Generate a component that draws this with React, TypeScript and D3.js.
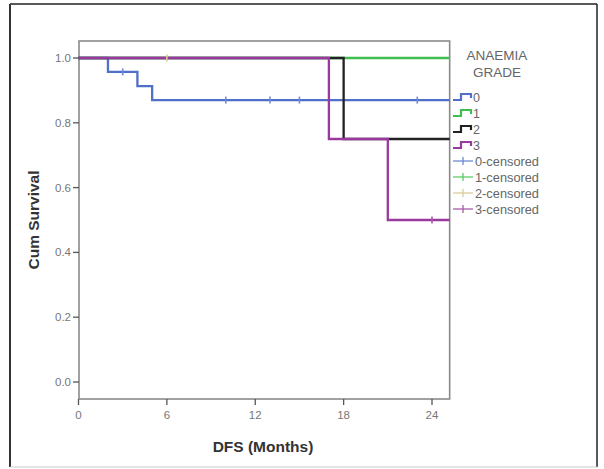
import React from 'react';
import * as d3 from 'd3';

// Kaplan-Meier steps per anaemia grade: [time, survival]
const groups = ['0', '1', '2', '3'];
const grade0Steps: [number, number][] = [[0, 1], [2, 0.957], [4, 0.913], [5, 0.87], [25.2, 0.87]];
const grade1Steps: [number, number][] = [[0, 1], [25.2, 1]];
const grade2Steps: [number, number][] = [[0, 1], [18, 0.75], [25.2, 0.75]];
const grade3Steps: [number, number][] = [[0, 1], [17, 0.75], [21, 0.5], [25.2, 0.5]];

// censored observations: [time, survival]
const grade0Censored: [number, number][] = [[3, 0.957], [10, 0.87], [13, 0.87], [15, 0.87], [23, 0.87]];
const grade1Censored: [number, number][] = [];
const grade2Censored: [number, number][] = [[6, 1]];
const grade3Censored: [number, number][] = [[24, 0.5]];

const xTicks = [0, 6, 12, 18, 24];
const yTicks = [0, 0.2, 0.4, 0.6, 0.8, 1.0];

const lineColors = ['#4f6fc9', '#3fbf4f', '#222222', '#9a3a9e'];
const censorColors = ['#6f8ad6', '#5ccc6a', '#d9cc98', '#a85aac'];

export default function App() {
  const x = d3.scaleLinear().domain([0, 24]).range([78.5, 432]);
  const y = d3.scaleLinear().domain([0, 1]).range([382, 58]);
  const left = 79, top = 41, right = x(25.2), bottom = 399;

  const steps = [grade0Steps, grade1Steps, grade2Steps, grade3Steps];
  const censored = [grade0Censored, grade1Censored, grade2Censored, grade3Censored];

  const stepLine = d3.line<[number, number]>()
    .x(d => x(d[0]))
    .y(d => y(d[1]))
    .curve(d3.curveStepAfter);

  const font = 'Liberation Sans, Arial, sans-serif';
  const legX = 453;
  const legY0 = 97;
  const legStep = 16;

  return (
    <svg width={604} height={469} style={{ position: 'absolute', left: 0, top: 0 }}>
      <rect x={0} y={0} width={604} height={469} fill="#fff" />
      {/* outer frame */}
      <line x1={10} y1={4} x2={597} y2={4} stroke="#222" strokeWidth={1.5} />
      <line x1={10} y1={4} x2={10} y2={467} stroke="#333" strokeWidth={2} />
      <line x1={597} y1={4} x2={597} y2={467} stroke="#222" strokeWidth={1.5} />
      <line x1={10} y1={467} x2={597} y2={467} stroke="#ccc" strokeWidth={1} />

      {/* plot frame */}
      <rect x={left} y={top} width={right - left} height={bottom - top} fill="none" stroke="#8a8a8a" strokeWidth={1.6} />

      {/* y axis ticks */}
      {yTicks.map(t => (
        <g key={'y' + t}>
          <line x1={left - 6} x2={left} y1={y(t)} y2={y(t)} stroke="#555" strokeWidth={1.3} />
          <text x={left - 8} y={y(t) + 4} textAnchor="end" fontSize={11.5} fill="#777" fontFamily={font}>
            {t.toFixed(1)}
          </text>
        </g>
      ))}
      {/* x axis ticks */}
      {xTicks.map(t => (
        <g key={'x' + t}>
          <line x1={x(t)} x2={x(t)} y1={bottom} y2={bottom + 6} stroke="#555" strokeWidth={1.3} />
          <text x={x(t)} y={bottom + 20} textAnchor="middle" fontSize={11.5} fill="#777" fontFamily={font}>
            {t}
          </text>
        </g>
      ))}

      {/* curves */}
      {steps.map((s, i) => (
        <path key={'s' + i} d={stepLine(s) || ''} fill="none" stroke={lineColors[i]} strokeWidth={2.3} />
      ))}
      {censored.map((c, i) =>
        c.map((p, j) => (
          <line key={'c' + i + '-' + j} x1={x(p[0])} x2={x(p[0])} y1={y(p[1]) - 3.5} y2={y(p[1]) + 3.5}
            stroke={censorColors[i]} strokeWidth={1.6} />
        ))
      )}

      {/* axis titles */}
      <text x={263} y={452} textAnchor="middle" fontSize={15.5} fontWeight="bold" fill="#333" fontFamily={font}>
        DFS (Months)
      </text>
      <text transform={`translate(39,220) rotate(-90)`} textAnchor="middle" fontSize={15.5} fontWeight="bold" fill="#333" fontFamily={font}>
        Cum Survival
      </text>

      {/* legend */}
      <text x={497} y={60} textAnchor="middle" fontSize={13.5} fill="#666" fontFamily={font}>ANAEMIA</text>
      <text x={497} y={77} textAnchor="middle" fontSize={13.5} fill="#666" fontFamily={font}>GRADE</text>
      {groups.map((g, i) => {
        const cy = legY0 + i * legStep;
        return (
          <g key={'l' + g}>
            <path d={`M${legX},${cy + 3} H${legX + 8} V${cy - 3} H${legX + 18} V${cy + 1}`} fill="none"
              stroke={lineColors[i]} strokeWidth={2.2} />
            <text x={legX + 20} y={cy + 4.5} fontSize={12.5} fill="#666" fontFamily={font}>{g}</text>
          </g>
        );
      })}
      {groups.map((g, i) => {
        const cy = legY0 + (i + 4) * legStep;
        return (
          <g key={'lc' + g}>
            <line x1={legX} x2={legX + 20} y1={cy} y2={cy} stroke={censorColors[i]} strokeWidth={1.3} />
            <line x1={legX + 10} x2={legX + 10} y1={cy - 4} y2={cy + 4} stroke={censorColors[i]} strokeWidth={1.3} />
            <text x={legX + 22} y={cy + 4.5} fontSize={12.5} fill="#666" fontFamily={font} textLength={64} lengthAdjust="spacingAndGlyphs">{g}-censored</text>
          </g>
        );
      })}
    </svg>
  );
}
